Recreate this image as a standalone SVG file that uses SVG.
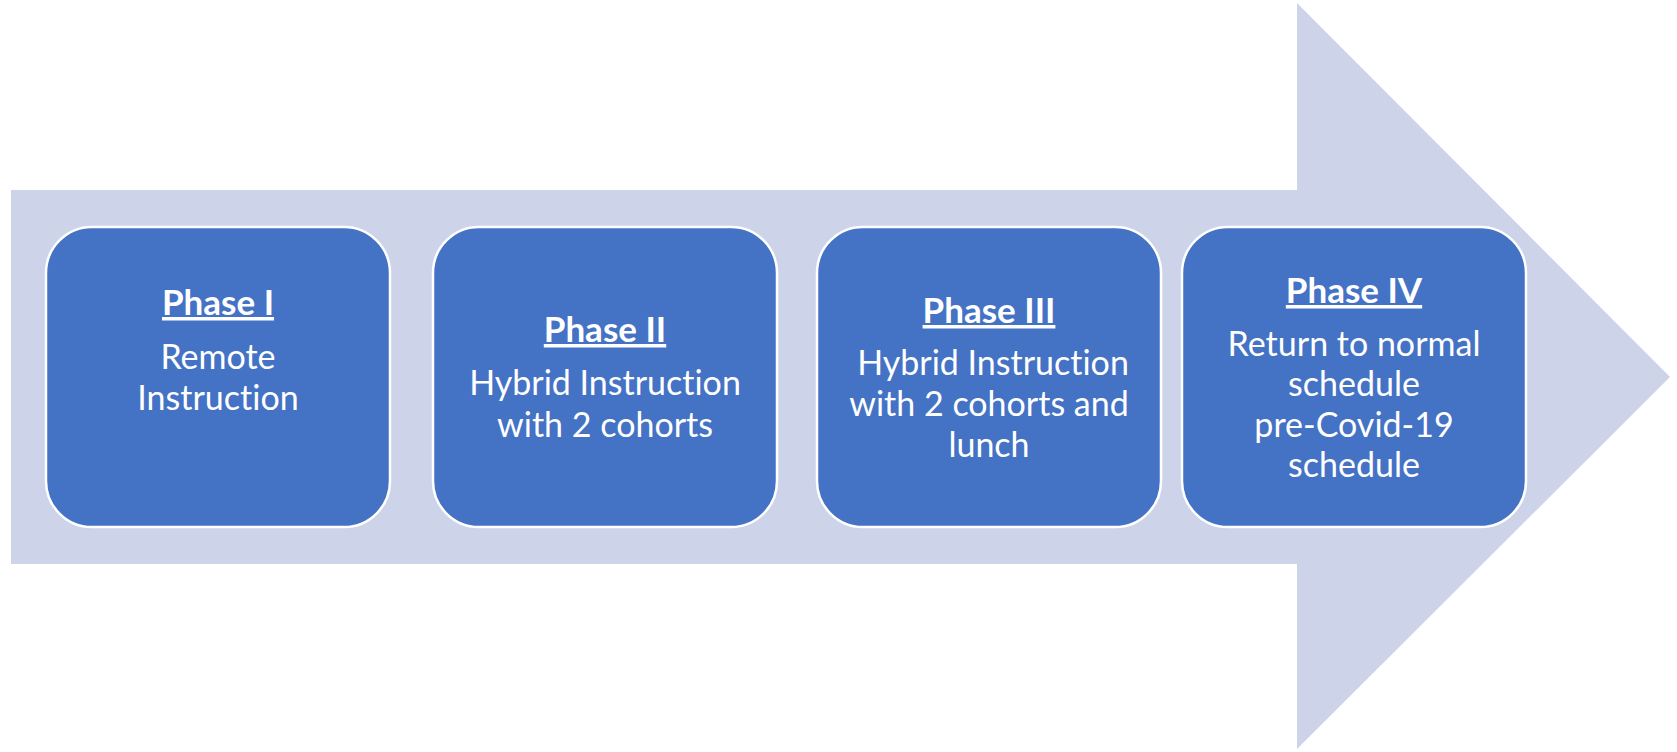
<svg xmlns="http://www.w3.org/2000/svg" width="1677" height="752" viewBox="0 0 1677 752">
<style>
.box{fill:#4472C4;stroke:#FFFFFF;stroke-width:2.5}
.t{font-family:Lato,"Open Sans","Liberation Sans",sans-serif;font-size:34px;fill:#FFFFFF;text-anchor:middle;font-variant-ligatures:none}
.h{font-weight:bold;text-decoration:underline;font-size:35px}
</style>
<rect width="1677" height="752" fill="#FFFFFF"/>
<g id="arrow">
<polygon points="11,190 1297,190 1297,3 1670,377 1297,749 1297,564 11,564" fill="#CDD4EA"/>
</g>
<g id="connectors"/>
<g id="phase1">
<rect class="box" x="46" y="227" width="344" height="300" rx="46" ry="46"/>
<text class="t h" x="218" y="315">Phase I</text>
<text class="t" x="218" y="369">Remote</text>
<text class="t" x="218" y="410">Instruction</text>
</g>
<g id="phase2">
<rect class="box" x="433" y="227" width="344" height="300" rx="46" ry="46"/>
<text class="t h" x="605" y="342">Phase II</text>
<text class="t" x="605" y="395">Hybrid Instruction</text>
<text class="t" x="605" y="437">with 2 cohorts</text>
</g>
<g id="phase3">
<rect class="box" x="817" y="227" width="344" height="300" rx="46" ry="46"/>
<text class="t h" x="989" y="323">Phase III</text>
<text class="t" x="993" y="375">Hybrid Instruction</text>
<text class="t" x="989" y="416">with 2 cohorts and</text>
<text class="t" x="989" y="457">lunch</text>
</g>
<g id="phase4">
<rect class="box" x="1182" y="227" width="344" height="300" rx="46" ry="46"/>
<text class="t h" x="1354" y="303">Phase IV</text>
<text class="t" x="1354" y="356">Return to normal</text>
<text class="t" x="1354" y="396">schedule</text>
<text class="t" x="1354" y="437">pre-Covid-19</text>
<text class="t" x="1354" y="477">schedule</text>
</g>
</svg>
